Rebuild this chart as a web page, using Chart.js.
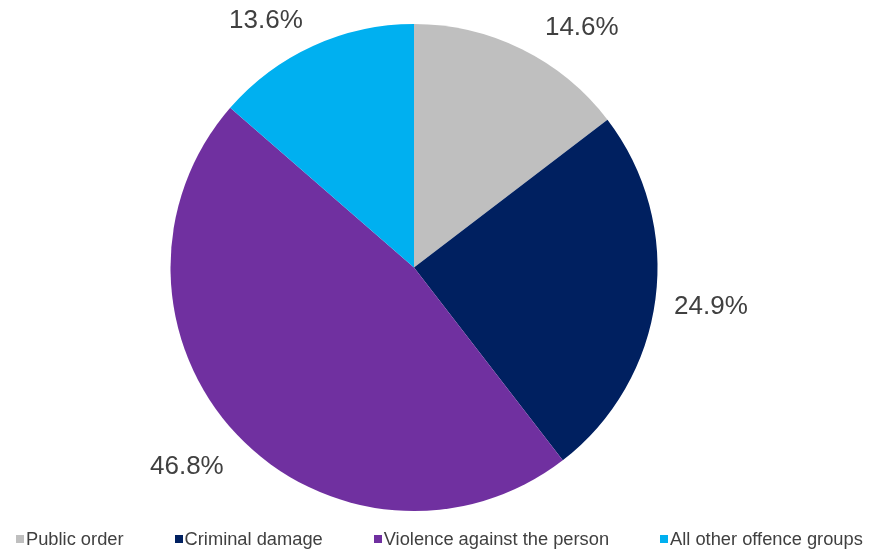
<!DOCTYPE html>
<html>
<head>
<meta charset="utf-8">
<script src="https://cdn.jsdelivr.net/npm/chart.js@4/dist/chart.umd.min.js"></script>
<style>
  html, body { margin: 0; padding: 0; background: #fff; }
  #wrap { position: relative; width: 878px; height: 552px; }
  #legend {
    position: absolute; left: 16px; top: 528px; height: 22px;
    display: flex; align-items: center; white-space: nowrap;
    font-family: "Liberation Sans", Arial, sans-serif; font-size: 18.3px; color: #404040;
  }
  .item { display: flex; align-items: center; margin-right: 51px; }
  .box { width: 8px; height: 8px; margin-right: 2px; }
</style>
</head>
<body>
<div id="wrap">
  <canvas id="pie" width="878" height="552"></canvas>
  <div id="legend"></div>
</div>
<script>
// Datos del grafico
const categories = ["Public order", "Criminal damage", "Violence against the person", "All other offence groups"];
const shares = [14.6, 24.9, 46.8, 13.6];
const colours = ["#BFBFBF", "#002060", "#7030A0", "#00B0F0"];

// ajuste de etiquetas (grados de giro, distancia extra al borde)
const labelTurn = [8.7, 0, 2, -6.5];
const labelGap = [49, 56, 59, 44];

const pctLabels = {
    id: 'pctLabels',
    afterDatasetsDraw(chart) {
        const ctx = chart.ctx;
        const arcs = chart.getDatasetMeta(0).data;
        ctx.save();
        ctx.font = '26px "Liberation Sans", Arial, sans-serif';
        ctx.fillStyle = '#404040';
        ctx.textAlign = 'center';
        ctx.textBaseline = 'middle';
        arcs.forEach((arc, i) => {
            const mid = (arc.startAngle + arc.endAngle) / 2 + labelTurn[i] * Math.PI / 180;
            const d = arc.outerRadius + labelGap[i];
            ctx.fillText(shares[i].toFixed(1) + '%', arc.x + Math.cos(mid) * d, arc.y + Math.sin(mid) * d);
        });
        ctx.restore();
    }
};

new Chart(document.getElementById('pie'), {
    type: 'pie',
    data: {
        labels: categories,
        datasets: [{
            data: shares,
            backgroundColor: colours,
            borderWidth: 0
        }]
    },
    options: {
        responsive: false,
        animation: false,
        layout: { padding: { top: 24, bottom: 41, left: 0, right: 50 } },
        plugins: { legend: { display: false }, tooltip: { enabled: false } }
    },
    plugins: [pctLabels]
});

// leyenda en HTML
const legend = document.getElementById('legend');
categories.forEach((name, i) => {
    const item = document.createElement('div');
    item.className = 'item';
    item.innerHTML = `<span class="box" style="background:${colours[i]}"></span><span>${name}</span>`;
    legend.appendChild(item);
});
</script>
</body>
</html>
